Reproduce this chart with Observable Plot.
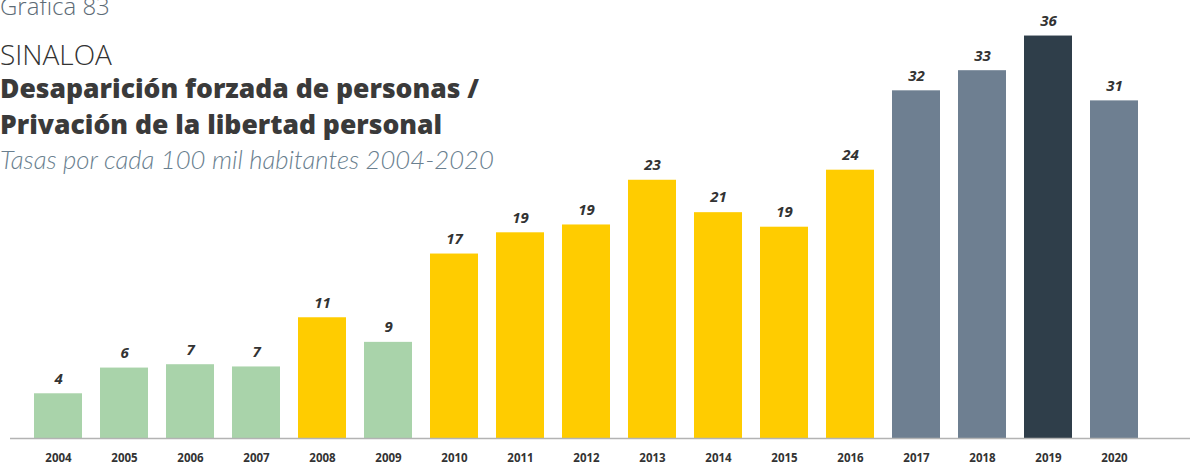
<!DOCTYPE html>
<html>
<head>
<meta charset="utf-8">
<script src="https://cdn.jsdelivr.net/npm/d3@7"></script>
<script src="https://cdn.jsdelivr.net/npm/@observablehq/plot@0.6"></script>
<style>
  html, body { margin: 0; padding: 0; background: #fff; }
  #wrap { position: relative; width: 1190px; height: 465px; overflow: hidden; font-family: "Open Sans", sans-serif; }
  #chart { position: absolute; left: 0; top: 0; }
  .t { position: absolute; left: 0; white-space: nowrap; line-height: 1; }
  #g83 { top: -6px; font-size: 24px; font-weight: 300; color: #5d6b76; }
  #st { top: 40px; font-size: 28px; font-weight: 300; color: #333; }
  #t1 { top: 75px; font-size: 26.5px; font-weight: 800; color: #3a3a3a; }
  #t2 { top: 111px; font-size: 26.5px; font-weight: 800; color: #3a3a3a; }
  #sub { top: 147px; font-size: 25.7px; font-weight: 300; font-style: italic; font-family: Lato, sans-serif; color: #6a7f8f; }
</style>
</head>
<body>
<div id="wrap">
  <div id="chart"></div>
  <div class="t" id="g83">Gráfica 83</div>
  <div class="t" id="st">SINALOA</div>
  <div class="t" id="t1">Desaparición forzada de personas /</div>
  <div class="t" id="t2">Privación de la libertad personal</div>
  <div class="t" id="sub">Tasas por cada 100 mil habitantes 2004-2020</div>
</div>
<script>
const years = ["2004","2005","2006","2007","2008","2009","2010","2011","2012","2013","2014","2015","2016","2017","2018","2019","2020"];
const rates = [4.0, 6.3, 6.6, 6.4, 10.8, 8.6, 16.5, 18.4, 19.1, 23.1, 20.2, 18.9, 24.0, 31.1, 32.9, 36.0, 30.2];
const labels = ["4","6","7","7","11","9","17","19","19","23","21","19","24","32","33","36","31"];
const groups = ["g","g","g","g","y","g","y","y","y","y","y","y","y","s","s","d","s"];
const groupKeys = ["g","y","s","d"];
const groupColors = ["#a9d3aa","#ffcc00","#6e7f91","#2f3e4a"];

const data = years.map((y, i) => ({year: y, rate: rates[i], label: labels[i], group: groups[i]}));

const chart = Plot.plot({
  width: 1190,
  height: 465,
  marginTop: 2,
  marginBottom: 27,
  marginLeft: 16,
  marginRight: 34,
  style: {fontFamily: "'Open Sans', sans-serif", background: "transparent"},
  x: {domain: years, padding: 0.2727, label: null},
  y: {domain: [0, 39], axis: null},
  color: {domain: groupKeys, range: groupColors},
  marks: [
    Plot.barY(data, {x: "year", y: "rate", fill: "group"}),
    Plot.ruleY([0], {stroke: "#b3b3b3", strokeWidth: 1.5, insetLeft: -6, insetRight: -40}),
    Plot.text(data, {x: "year", y: "rate", text: "label", dy: -15, fontSize: 15, fontWeight: "bold", fontStyle: "italic", fill: "#333"}),
    Plot.axisX({tickSize: 0, tickPadding: 15, fontSize: 11.5, fontWeight: "bold", fill: "#333", label: null})
  ]
});
document.getElementById("chart").appendChild(chart);
</script>
</body>
</html>
